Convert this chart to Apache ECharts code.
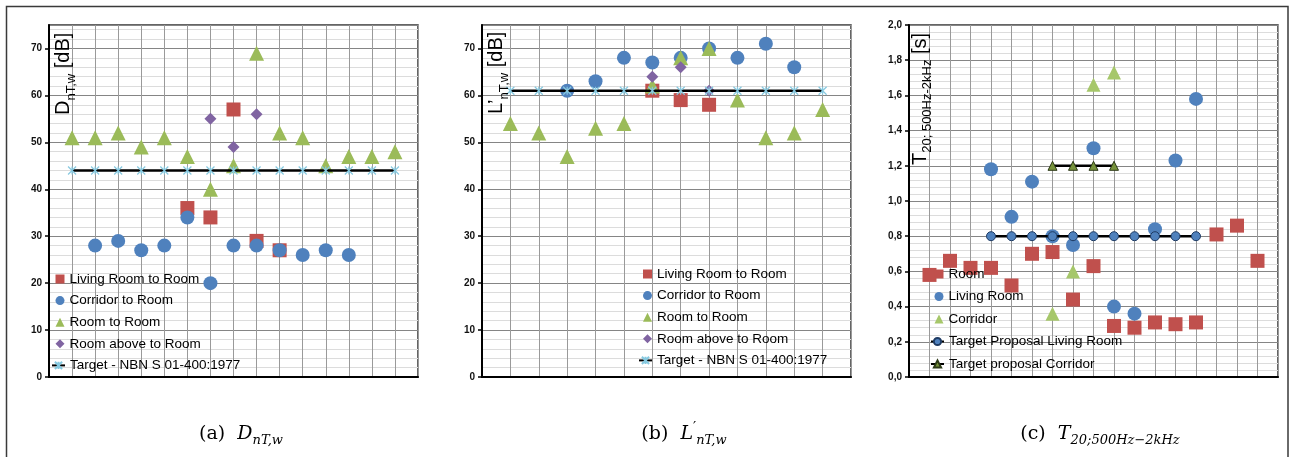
<!DOCTYPE html>
<html><head><meta charset="utf-8">
<script src="https://cdn.jsdelivr.net/npm/echarts@6/dist/echarts.min.js"></script>
<style>html,body{margin:0;padding:0;background:#fff}#c{width:1293px;height:457px}</style>
</head><body><div id="c"></div>
<script>
// ---------- data (values indexed by position 1..n on the x axis; null = no point) ----------
// (a) D_nT,w [dB]
const aLiving   = [null,null,null,null,null,36,34,57,29,27,null,null,null,null,null];
const aCorridor = [null,28,29,27,28,34,20,28,28,27,26,27,26,null,null];
const aRoom     = [51,51,52,49,51,47,40,45,69,52,51,45,47,47,48];
const aAbove    = [null,null,null,null,null,null,55,49,56,null,null,null,null,null,null];
const aTarget   = [44,44,44,44,44,44,44,44,44,44,44,44,44,44,44];
// (b) L'_nT,w [dB]
const bLiving   = [null,null,null,null,null,61,59,58,null,null,null,null];
const bCorridor = [null,null,61,63,68,67,68,70,68,71,66,null];
const bRoom     = [54,52,47,53,54,62,68,70,59,51,52,57];
const bAbove    = [null,null,null,null,null,64,66,61,null,null,null,null];
const bTarget   = [61,61,61,61,61,61,61,61,61,61,61,61];
// (c) T20;500Hz-2kHz [s]
const cRoom       = [0.58,0.66,0.62,0.62,0.52,0.70,0.71,0.44,0.63,0.29,0.28,0.31,0.30,0.31,0.81,0.86,0.66];
const cLiving     = [null,null,null,1.18,0.91,1.11,0.80,0.75,1.30,0.40,0.36,0.84,1.23,1.58,null,null,null];
const cCorridor   = [null,null,null,null,null,null,0.36,0.60,1.66,1.73,null,null,null,null,null,null,null];
const cTargetLiv  = [null,null,null,0.8,0.8,0.8,0.8,0.8,0.8,0.8,0.8,0.8,0.8,0.8,null,null,null];
const cTargetCorr = [null,null,null,null,null,null,1.2,1.2,1.2,1.2,null,null,null,null,null,null,null];

const namesAB = ['Living Room to Room','Corridor to Room','Room to Room','Room above to Room','Target - NBN S 01-400:1977'];
const namesC  = ['Room','Living Room','Corridor','Target Proposal Living Room','Target proposal Corridor'];
const yTitles = [
  {main:'D', sub:'nT,w', unit:' [dB]'},
  {main:'L\u2019', sub:'nT,w', unit:' [dB]'},
  {main:'T', sub:'20; 500Hz-2kHz', unit:' [s]'}
];

// ---------- helpers ----------
const pts = arr => arr.map((v,i) => v == null ? null : [i+1, v]).filter(Boolean);
const RED='#c0504d', BLUE='#4f81bd', GREEN='#9bbb59', PURPLE='#8064a2', CROSS='#86c9e0';
const SANS='Liberation Sans';
const crossPath='path://M0,0L10,10M10,0L0,10M5,0L5,10';

function grid(left){ return {left:left, top:25, width:369, height:352, show:true, borderColor:'#333', borderWidth:1.5, backgroundColor:'transparent'}; }
function xAx(gi,max){ return {gridIndex:gi, type:'value', min:0, max:max, interval:1,
  axisLine:{show:true, onZero:false, lineStyle:{color:'#000', width:2}},
  axisTick:{show:false}, axisLabel:{show:false},
  splitLine:{show:true, lineStyle:{color:'#9a9a9a', width:1}}}; }
function yAx(gi,max,interval,fmt,showMax){ return {gridIndex:gi, type:'value', min:0, max:max, interval:interval,
  axisLine:{show:true, onZero:false, lineStyle:{color:'#000', width:2}},
  axisTick:{show:true, length:4, lineStyle:{color:'#000', width:1.5}},
  axisLabel:{show:true, fontFamily:SANS, fontWeight:'bold', fontSize:10, color:'#111', margin:7, showMaxLabel:showMax, formatter:fmt},
  splitLine:{show:true, lineStyle:{color:'#858585', width:1}},
  minorTick:{show:false, splitNumber:5},
  minorSplitLine:{show:true, lineStyle:{color:'#dcdcdc', width:1}}}; }
function sc(name,gi,arr,symbol,size,color,z){ return {name:name, type:'scatter', xAxisIndex:gi, yAxisIndex:gi, data:pts(arr),
  symbol:symbol, symbolSize:size, itemStyle:{color:color, opacity:1}, z:z||2, silent:true}; }
function target(name,gi,arr){ return {name:name, type:'line', xAxisIndex:gi, yAxisIndex:gi, data:pts(arr),
  symbol:crossPath, symbolSize:8, showSymbol:true, lineStyle:{color:'#000', width:2.5},
  itemStyle:{color:'rgba(0,0,0,0)', borderColor:CROSS, borderWidth:1.2}, z:3, silent:true, animation:false}; }
function lg(left,top,names,iw,gap){ return {orient:'vertical', left:left, top:top, data:names, padding:0,
  itemWidth:iw, itemHeight:9, itemGap:gap, selectedMode:false,
  textStyle:{fontFamily:SANS, fontSize:13.5, color:'#000', lineHeight:14}}; }

function yTitle(t,x,y){ return {type:'text', x:x, y:y, rotation:Math.PI/2, z:10,
  style:{text:'{m|'+t.main+'}{s|'+t.sub+'}{m|'+t.unit+'}', align:'left', verticalAlign:'middle',
    rich:{m:{fontFamily:SANS, fontSize:20, lineHeight:28, verticalAlign:'middle', fill:'#000'},
          s:{fontFamily:SANS, fontSize:13, lineHeight:14, verticalAlign:'bottom', fill:'#000'}}}}; }
const SERIF='DejaVu Serif';
const capRich = {n:{fontFamily:SERIF, fontSize:19, lineHeight:26, verticalAlign:'middle', fill:'#000'},
  i:{fontFamily:SERIF, fontStyle:'italic', fontSize:19, lineHeight:26, verticalAlign:'middle', fill:'#000'},
  p:{fontFamily:SERIF, fontSize:14, lineHeight:26, verticalAlign:'top', fill:'#000'},
  s:{fontFamily:SERIF, fontStyle:'italic', fontSize:13, lineHeight:14, verticalAlign:'bottom', fill:'#000'}};
function caption(text,x){ return {type:'text', x:x, y:434, style:{text:text, align:'center', verticalAlign:'middle', rich:capRich}}; }

const option = {
  animation:false,
  grid:[grid(49), grid(482), grid(909)],
  xAxis:[xAx(0,16), xAx(1,13), xAx(2,18)],
  yAxis:[yAx(0,75,10,v=>String(v),false), yAx(1,75,10,v=>String(v),false),
         yAx(2,2,0.2,v=>v.toFixed(1).replace('.',','),true)],
  legend:[
    lg(55.5,272,namesAB.slice(0,4),9,7.6), lg(51,358.4,namesAB.slice(4),13,7.6),
    lg(643,267,namesAB.slice(0,4),9,7.6), lg(638,353.4,namesAB.slice(4),13,7.6),
    lg(934.5,267,namesC.slice(0,3),9,8.5), lg(930,334.5,namesC.slice(3),13,8.5)
  ],
  series:[
    sc(namesAB[0],0,aLiving,'rect',14,RED),
    sc(namesAB[1],0,aCorridor,'circle',14,BLUE),
    sc(namesAB[2],0,aRoom,'triangle',15,GREEN),
    sc(namesAB[3],0,aAbove,'diamond',12,PURPLE),
    target(namesAB[4],0,aTarget),
    sc(namesAB[0],1,bLiving,'rect',14,RED),
    sc(namesAB[1],1,bCorridor,'circle',14,BLUE),
    sc(namesAB[2],1,bRoom,'triangle',15,GREEN),
    sc(namesAB[3],1,bAbove,'diamond',12,PURPLE),
    target(namesAB[4],1,bTarget),
    sc(namesC[0],2,cRoom,'rect',14,RED),
    sc(namesC[1],2,cLiving,'circle',14,BLUE),
    sc(namesC[2],2,cCorridor,'triangle',14,'#a6c76a'),
    {name:namesC[3], type:'line', xAxisIndex:2, yAxisIndex:2, data:pts(cTargetLiv), symbol:'circle', symbolSize:9,
      lineStyle:{color:'#000', width:2.5}, itemStyle:{color:BLUE, borderColor:'#1f3b63', borderWidth:1}, z:3, silent:true},
    {name:namesC[4], type:'line', xAxisIndex:2, yAxisIndex:2, data:pts(cTargetCorr), symbol:'triangle', symbolSize:9,
      lineStyle:{color:'#000', width:2.5}, itemStyle:{color:'#77933c', borderColor:'#2d3a17', borderWidth:1}, z:3, silent:true}
  ],
  graphic:[
    {type:'rect', shape:{x:6.5, y:6.5, width:1281.5, height:480}, style:{fill:'none', stroke:'#3a3a3a', lineWidth:1.5}, z:-1, silent:true},
    yTitle(yTitles[0],63.5,115),
    yTitle(yTitles[1],496.5,114),
    yTitle(yTitles[2],920,165),
    caption('{n|(a)  }{i|D}{s|nT,w}',241),
    caption('{n|(b)  }{i|L}{p|\u2032}{s|nT,w}',684),
    caption('{n|(c)  }{i|T}{s|20;500Hz\u22122kHz}',1100)
  ]
};
const chart = echarts.init(document.getElementById('c'), null, {renderer:'canvas'});
chart.setOption(option);
</script></body></html>
